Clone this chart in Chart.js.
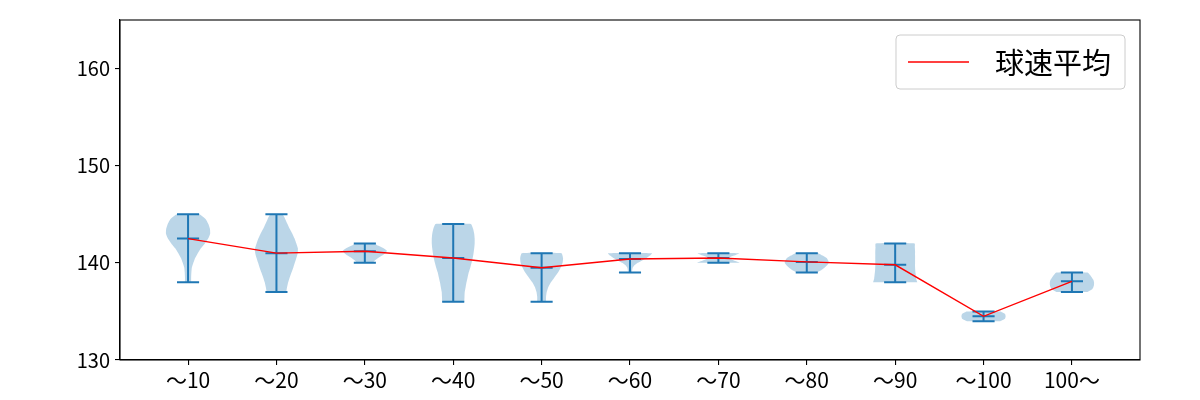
<!DOCTYPE html>
<html>
<head>
<meta charset="utf-8">
<script src="https://cdn.jsdelivr.net/npm/chart.js@4.4.1/dist/chart.umd.min.js"></script>
<style>
  body { margin: 0; background: #fff; }
  #wrap { width: 1200px; height: 400px; }
</style>
</head>
<body>
<div id="wrap"><canvas id="chart" width="1200" height="400"></canvas></div>
<script>
const categories = ['～10', '～20', '～30', '～40', '～50', '～60', '～70', '～80', '～90', '～100', '100～'];
const speedMean = [142.5, 141.0, 141.2, 140.5, 139.5, 140.4, 140.5, 140.1, 139.8, 134.5, 138.1];
const speedMin  = [138, 137, 140, 136, 136, 139, 140, 139, 138, 134, 137];
const speedMax  = [145, 145, 142, 144, 141, 141, 141, 141, 142, 135, 139];
// violin outline: relative half width, sampled evenly from min (first) to max (last)
const violinWidths = [
  [0.14, 0.14, 0.15, 0.17, 0.24, 0.32, 0.44, 0.58, 0.76, 0.91, 1.0, 0.99, 0.92, 0.8, 0.51],
  [0.44, 0.48, 0.53, 0.6, 0.68, 0.76, 0.83, 0.9, 0.96, 0.97, 0.9, 0.82, 0.72, 0.6, 0.5, 0.4, 0.27],
  [0.35, 0.45, 0.6, 0.78, 0.92, 1.0, 0.85, 0.62, 0.4],
  [0.5, 0.51, 0.52, 0.56, 0.6, 0.65, 0.7, 0.77, 0.83, 0.88, 0.92, 0.95, 0.97, 0.97, 0.95, 0.9, 0.8],
  [0.2, 0.2, 0.23, 0.3, 0.42, 0.58, 0.74, 0.86, 0.95, 0.97, 0.9],
  [0.08, 0.1, 0.12, 0.2, 0.35, 0.55, 0.75, 0.9, 1.0],
  [1.0, 0.7, 0.45, 0.7, 0.95],
  [0.42, 0.65, 0.8, 0.92, 1.0, 0.97, 0.9, 0.72, 0.5],
  [1.0, 0.95, 0.93, 0.91, 0.9, 0.9, 0.9, 0.9, 0.9, 0.89, 0.88],
  [0.75, 0.97, 1.0, 0.97, 0.75],
  [0.7, 0.9, 0.97, 1.0, 1.0, 0.97, 0.9, 0.82, 0.7]
];
const yTicks = [130, 140, 150, 160];
const yRange = [130, 165];
const xRange = [0.23, 11.77];

const fontFamily = '"Noto Sans CJK JP", "Noto Sans", sans-serif';
const violinHalf = 0.25;
const capHalf = 0.125;

const datasets = [];

datasets.push({
  label: '球速平均',
  data: speedMean.map((m, i) => ({ x: i + 1, y: m })),
  borderColor: '#ff0000',
  borderWidth: 1.4,
  pointRadius: 0,
  fill: false
});

const blueLines = [];
categories.forEach((_, i) => {
  const p = i + 1;
  blueLines.push({ x: p, y: speedMin[i] }, { x: p, y: speedMax[i] }, { x: p, y: null });
  [speedMin[i], speedMax[i], speedMean[i]].forEach(v => {
    blueLines.push({ x: p - capHalf, y: v }, { x: p + capHalf, y: v }, { x: p, y: null });
  });
});
datasets.push({
  label: 'bars',
  data: blueLines,
  borderColor: '#1f77b4',
  borderWidth: 2,
  pointRadius: 0,
  spanGaps: false,
  fill: false
});

violinWidths.forEach((w, i) => {
  const p = i + 1, n = w.length, lo = speedMin[i], hi = speedMax[i];
  const level = k => lo + (hi - lo) * k / (n - 1);
  const pts = [];
  for (let k = 0; k < n; k++) pts.push({ x: p + violinHalf * w[k], y: level(k) });
  for (let k = n - 1; k >= 0; k--) pts.push({ x: p - violinHalf * w[k], y: level(k) });
  datasets.push({
    label: 'violin' + i,
    data: pts,
    fill: 'shape',
    backgroundColor: 'rgba(31,119,180,0.3)',
    borderColor: 'transparent',
    borderWidth: 0,
    pointRadius: 0,
    tension: 0.15
  });
});

const frame = {
  id: 'frame',
  afterDatasetsDraw(chart) {
    const { ctx, chartArea: a } = chart;
    ctx.save();
    ctx.strokeStyle = '#000';
    ctx.lineWidth = 1.1;
    ctx.strokeRect(a.left, a.top, a.right - a.left, a.bottom - a.top);
    ctx.restore();
  }
};

const legendBox = {
  id: 'legendBox',
  afterDraw(chart) {
    const { ctx, chartArea: a } = chart;
    const ds = chart.data.datasets[0];
    const fs = 29;
    ctx.save();
    ctx.font = fs + 'px "Noto Sans CJK JP"';
    const tw = ctx.measureText(ds.label).width;
    const padL = 12, hl = 61, gap = 26, padR = 14;
    const w = padL + hl + gap + tw + padR, h = 54;
    const x = a.right - 15 - w, y = a.top + 15;
    ctx.beginPath();
    ctx.roundRect(x, y, w, h, 4);
    ctx.fillStyle = 'rgba(255,255,255,0.8)';
    ctx.fill();
    ctx.strokeStyle = '#cccccc';
    ctx.lineWidth = 1;
    ctx.stroke();
    const cy = y + h / 2;
    ctx.beginPath();
    ctx.moveTo(x + padL, cy);
    ctx.lineTo(x + padL + hl, cy);
    ctx.strokeStyle = ds.borderColor;
    ctx.lineWidth = ds.borderWidth;
    ctx.stroke();
    ctx.fillStyle = '#000';
    ctx.textBaseline = 'middle';
    ctx.fillText(ds.label, x + padL + hl + gap, cy + 1);
    ctx.restore();
  }
};

new Chart(document.getElementById('chart'), {
  type: 'line',
  data: { datasets },
  options: {
    responsive: false,
    animation: false,
    events: [],
    layout: { padding: { left: 0, right: 60, top: 20, bottom: 0 } },
    plugins: { legend: { display: false }, tooltip: { enabled: false } },
    scales: {
      x: {
        type: 'linear',
        min: xRange[0],
        max: xRange[1],
        afterBuildTicks: s => { s.ticks = categories.map((_, i) => ({ value: i + 1 })); },
        afterFit: s => { s.height = 40; },
        ticks: {
          callback: v => categories[Math.round(v) - 1],
          font: { family: fontFamily, size: 21 }, color: '#000', padding: 2, autoSkip: false, maxRotation: 0
        },
        grid: { display: true, drawOnChartArea: false, drawTicks: true, tickLength: 5, color: '#000', lineWidth: 1.1 },
        border: { display: true, color: '#000', width: 1.1 }
      },
      y: {
        min: yRange[0],
        max: yRange[1],
        afterBuildTicks: s => { s.ticks = yTicks.map(v => ({ value: v })); },
        afterFit: s => { s.width = 120; },
        ticks: { font: { family: fontFamily, size: 20 }, color: '#000', padding: 5 },
        grid: { display: true, drawOnChartArea: false, drawTicks: true, tickLength: 5, color: '#000', lineWidth: 1.1 },
        border: { display: true, color: '#000', width: 1.1 }
      }
    }
  },
  plugins: [frame, legendBox]
});
</script>
</body>
</html>
